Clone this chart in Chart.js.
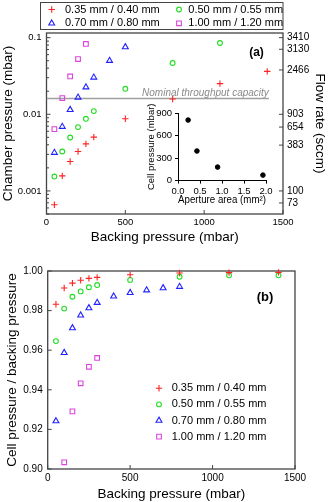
<!DOCTYPE html>
<html lang="en">
<head>
<meta charset="UTF-8">
<title>Chamber and cell pressure vs backing pressure</title>
<script src="https://cdn.jsdelivr.net/npm/chart.js"></script>
<style>
    body { margin: 0; background: #fff; }
    #wrap { position: relative; width: 329px; height: 502px; overflow: hidden; }
    #wrap canvas { position: absolute; }
    #topChart { left: 0; top: 0; }
    #bottomChart { left: 0; top: 245px; }
    #insetChart { left: 140px; top: 100px; }
</style>
</head>
<body>
<div id="wrap">
    <canvas id="topChart" width="329" height="245"></canvas>
    <canvas id="bottomChart" width="329" height="257"></canvas>
    <canvas id="insetChart" width="135" height="108"></canvas>
</div>
<script>
// ---- data ----
const seriesLabels = ['0.35 mm / 0.40 mm', '0.50 mm / 0.55 mm', '0.70 mm / 0.80 mm', '1.00 mm / 1.20 mm'];

// panel (a): chamber pressure (mbar) vs backing pressure (mbar)
const backingA1 = [50, 100, 150, 200, 250, 300, 500, 800, 1100, 1400];
const chamberA1 = [0.00066, 0.00157, 0.00242, 0.00327, 0.00411, 0.00503, 0.00873, 0.0158, 0.0251, 0.0363];
const backingA2 = [50, 100, 150, 200, 250, 300, 500, 800, 1100];
const chamberA2 = [0.00154, 0.00327, 0.00498, 0.00681, 0.00873, 0.0110, 0.0215, 0.0467, 0.0852];
const backingA3 = [50, 100, 150, 200, 250, 300, 400, 500];
const chamberA3 = [0.00316, 0.0069, 0.01146, 0.0166, 0.0226, 0.0303, 0.0501, 0.0755];
const backingA4 = [50, 100, 150, 200, 250];
const chamberA4 = [0.0064, 0.0163, 0.0312, 0.0526, 0.0828];

const chamberTicks = [0.001, 0.01, 0.1];
// flow rate axis: labels and the chamber pressure they sit at
const flowLabels = ['3410', '3130', '2466', '903', '654', '383', '100', '73'];
const flowAtChamber = [0.1, 0.0705, 0.0379, 0.01, 0.00681, 0.00396, 0.001, 0.000697];

const nominalCapacity = 0.0161;
const nominalSpan = [0, 1410];

// inset: cell pressure vs aperture area
const apertureArea = [0.23, 0.43, 0.90, 1.93];
const cellPressure = [806, 394, 180, 73];

// panel (b): cell pressure / backing pressure
const backingB1 = [50, 100, 150, 200, 250, 300, 500, 800, 1100, 1400];
const ratioB1 = [0.9832, 0.9914, 0.9939, 0.9953, 0.9963, 0.9968, 0.9981, 0.9990, 0.9992, 0.9993];
const backingB2 = [50, 100, 150, 200, 250, 300, 500, 800, 1100, 1400];
const ratioB2 = [0.9646, 0.9810, 0.9870, 0.9897, 0.9918, 0.9929, 0.9955, 0.9971, 0.9978, 0.9978];
const backingB3 = [50, 100, 150, 200, 250, 300, 400, 500, 600, 700, 800];
const ratioB3 = [0.9242, 0.9587, 0.9712, 0.9776, 0.9813, 0.9840, 0.9872, 0.9890, 0.9903, 0.9914, 0.9921];
const backingB4 = [100, 150, 200, 250, 300];
const ratioB4 = [0.9034, 0.9291, 0.9433, 0.9516, 0.9561];

// ---- styling ----
Chart.defaults.font.family = "'Liberation Sans', Arial, sans-serif";
Chart.defaults.color = '#000';

const markers = [
    { pointStyle: 'cross', radius: 3.2, color: '#ff2222' },
    { pointStyle: 'circle', radius: 2.4, color: '#22dd22' },
    { pointStyle: 'triangle', radius: 3.4, color: '#2222ff' },
    { pointStyle: 'rect', radius: 3.3, color: '#dd44dd' }
];

function scatterSet(k, xs, ys) {
    const m = markers[k];
    return {
        type: 'scatter',
        label: seriesLabels[k],
        data: xs.map((x, i) => ({ x: x, y: ys[i] })),
        pointStyle: m.pointStyle,
        pointRadius: m.radius,
        pointBorderColor: m.color,
        pointBackgroundColor: 'rgba(0,0,0,0)',
        pointBorderWidth: 1.1,
        clip: false
    };
}

function drawMarker(ctx, k, x, y) {
    const m = markers[k];
    ctx.save();
    ctx.strokeStyle = m.color;
    ctx.fillStyle = 'rgba(0,0,0,0)';
    ctx.lineWidth = 1.1;
    Chart.helpers.drawPoint(ctx, { pointStyle: m.pointStyle, radius: m.radius, borderWidth: 1.1, rotation: 0 }, x, y);
    ctx.restore();
}

// frame + inward tick marks
function frameTicks(extra) {
    return {
        id: 'frameTicks',
        beforeDatasetsDraw(chart) {
            const ctx = chart.ctx, a = chart.chartArea;
            ctx.save();
            ctx.strokeStyle = '#444';
            ctx.lineWidth = 1;
            ctx.beginPath();
            chart.scales.x.ticks.forEach(t => {
                const px = chart.scales.x.getPixelForValue(t.value);
                ctx.moveTo(px, a.bottom); ctx.lineTo(px, a.bottom - 4);
            });
            const y = chart.scales.y;
            y.ticks.forEach(t => {
                const py = y.getPixelForValue(t.value);
                ctx.moveTo(a.left, py); ctx.lineTo(a.left + 4, py);
            });
            if (extra) extra(chart, ctx, a);
            ctx.stroke();
            ctx.lineWidth = 1.3;
            ctx.strokeRect(a.left, a.top, a.right - a.left, a.bottom - a.top);
            ctx.restore();
        }
    };
}

// ---- top panel ----
new Chart(document.getElementById('topChart'), {
    type: 'scatter',
    data: {
        datasets: [
            scatterSet(0, backingA1, chamberA1),
            scatterSet(1, backingA2, chamberA2),
            scatterSet(2, backingA3, chamberA3),
            scatterSet(3, backingA4, chamberA4),
            {
                type: 'line',
                label: 'Nominal throughput capacity',
                data: nominalSpan.map(x => ({ x: x, y: nominalCapacity })),
                borderColor: '#a0a0a0',
                borderWidth: 1.5,
                pointRadius: 0
            }
        ]
    },
    options: {
        responsive: false,
        animation: false,
        layout: { padding: { top: 33, left: 0, right: 0, bottom: 0 } },
        plugins: { legend: { display: false }, tooltip: { enabled: false } },
        scales: {
            x: {
                type: 'linear', min: 0, max: 1500,
                grid: { display: false, drawTicks: false },
                border: { display: false },
                ticks: { stepSize: 500, padding: 3, font: { size: 9.5 }, callback: v => String(v) },
                title: { display: true, text: 'Backing pressure (mbar)', font: { size: 13.5 }, padding: 0 },
                afterFit: s => { s.height = 31; }
            },
            y: {
                type: 'logarithmic', position: 'left', min: 0.0005, max: 0.115,
                grid: { display: false, drawTicks: false },
                border: { display: false },
                afterBuildTicks: s => { s.ticks = chamberTicks.map(v => ({ value: v })); },
                ticks: { autoSkip: false, padding: 5, font: { size: 9.5 }, callback: v => String(v) },
                title: { display: true, text: 'Chamber pressure (mbar)', font: { size: 13.5 }, padding: 0 },
                afterFit: s => { s.width = 46.5; }
            },
            y2: {
                type: 'logarithmic', position: 'right', min: 0.0005, max: 0.115,
                grid: { display: false, drawTicks: false },
                border: { display: false },
                afterBuildTicks: s => { s.ticks = flowAtChamber.map(v => ({ value: v })); },
                ticks: { autoSkip: false, padding: 4, font: { size: 10 }, callback: (v, i) => flowLabels[i] },
                title: { display: true, text: 'Flow rate (sccm)', font: { size: 13.5 }, padding: { top: 1, bottom: 0 } },
                afterFit: s => { s.width = 46; }
            }
        }
    },
    plugins: [
        frameTicks((chart, ctx, a) => {
            const y = chart.scales.y;
            // minor log ticks
            for (let e = -4; e <= 0; e++) {
                for (let m = 2; m <= 9; m++) {
                    const v = m * Math.pow(10, e);
                    if (v < y.min || v > y.max) continue;
                    const py = y.getPixelForValue(v);
                    ctx.moveTo(a.left, py); ctx.lineTo(a.left + 2.5, py);
                }
            }
            const y2 = chart.scales.y2;
            y2.ticks.forEach(t => {
                const py = y2.getPixelForValue(t.value);
                ctx.moveTo(a.right, py); ctx.lineTo(a.right - 4, py);
            });
        }),
        {
            id: 'annotations',
            afterDraw(chart) {
                const ctx = chart.ctx;
                const x = chart.scales.x, y = chart.scales.y;
                ctx.save();
                // nominal capacity label
                ctx.font = "italic 10px 'Liberation Sans', Arial, sans-serif";
                ctx.fillStyle = '#8a8a8a';
                ctx.textAlign = 'right';
                ctx.textBaseline = 'alphabetic';
                ctx.fillText('Nominal throughput capacity', x.getPixelForValue(nominalSpan[1]), y.getPixelForValue(nominalCapacity) - 2);
                // panel tag
                ctx.font = "bold 12px 'Liberation Sans', Arial, sans-serif";
                ctx.fillStyle = '#000';
                ctx.textAlign = 'center';
                ctx.textBaseline = 'middle';
                ctx.fillText('(a)', 256.5, 53);
                // legend box
                ctx.strokeStyle = '#444';
                ctx.lineWidth = 1;
                ctx.strokeRect(40.5, 2.5, 242.5, 27);
                ctx.font = "11px 'Liberation Sans', Arial, sans-serif";
                ctx.textAlign = 'left';
                const cols = [[51.7, 65], [179, 188.3]];
                const rows = [9.5, 23.3];
                seriesLabels.forEach((lab, k) => {
                    const c = cols[k % 2], r = rows[Math.floor(k / 2)];
                    drawMarker(ctx, k, c[0], r);
                    ctx.fillStyle = '#000';
                    ctx.fillText(lab, c[1], r);
                });
                ctx.restore();
            }
        }
    ]
});

// ---- inset ----
new Chart(document.getElementById('insetChart'), {
    type: 'scatter',
    data: {
        datasets: [{
            label: 'Cell pressure',
            data: apertureArea.map((x, i) => ({ x: x, y: cellPressure[i] })),
            pointStyle: 'circle',
            pointRadius: 2.3,
            pointBackgroundColor: '#000',
            pointBorderColor: '#000',
            clip: false
        }]
    },
    options: {
        responsive: false,
        animation: false,
        layout: { padding: { top: 13, right: 9, left: 0, bottom: 0 } },
        plugins: { legend: { display: false }, tooltip: { enabled: false } },
        scales: {
            x: {
                type: 'linear', min: 0, max: 2,
                grid: { drawOnChartArea: false, drawTicks: true, tickLength: 3, color: '#000' },
                border: { display: true, color: '#000', width: 1 },
                ticks: { stepSize: 0.5, padding: 2, font: { size: 9.5 }, callback: v => v.toFixed(1) },
                title: { display: true, text: 'Aperture area (mm²)', font: { size: 10 }, padding: { top: 0, bottom: 2 } },
                afterFit: s => { s.height = 27.4; }
            },
            y: {
                type: 'linear', min: 0, max: 900,
                grid: { drawOnChartArea: false, drawTicks: true, tickLength: 3, color: '#000' },
                border: { display: true, color: '#000', width: 1 },
                ticks: { stepSize: 300, padding: 3, font: { size: 9.5 } },
                title: { display: true, text: 'Cell pressure (mbar)', font: { size: 9.5 }, padding: { top: 6, bottom: 0 } },
                afterFit: s => { s.width = 38; }
            }
        }
    }
});

// ---- bottom panel ----
new Chart(document.getElementById('bottomChart'), {
    type: 'scatter',
    data: {
        datasets: [
            scatterSet(0, backingB1, ratioB1),
            scatterSet(1, backingB2, ratioB2),
            scatterSet(2, backingB3, ratioB3),
            scatterSet(3, backingB4, ratioB4)
        ]
    },
    options: {
        responsive: false,
        animation: false,
        layout: { padding: { top: 26, right: 34, left: 0, bottom: 0 } },
        plugins: { legend: { display: false }, tooltip: { enabled: false } },
        scales: {
            x: {
                type: 'linear', min: 0, max: 1500,
                grid: { display: false, drawTicks: false },
                border: { display: false },
                ticks: { stepSize: 500, padding: 3, font: { size: 10 }, callback: v => String(v) },
                title: { display: true, text: 'Backing pressure (mbar)', font: { size: 13.5 }, padding: 0 },
                afterFit: s => { s.height = 33; }
            },
            y: {
                type: 'linear', min: 0.9, max: 1.0,
                grid: { display: false, drawTicks: false },
                border: { display: false },
                ticks: { stepSize: 0.02, padding: 5, font: { size: 10 }, callback: v => v.toFixed(2) },
                title: { display: true, text: 'Cell pressure / backing pressure', font: { size: 13.5 }, padding: { top: 4, bottom: 0 } },
                afterFit: s => { s.width = 47.7; }
            }
        }
    },
    plugins: [
        frameTicks(),
        {
            id: 'annotations',
            afterDraw(chart) {
                const ctx = chart.ctx;
                ctx.save();
                ctx.font = "bold 13px 'Liberation Sans', Arial, sans-serif";
                ctx.fillStyle = '#000';
                ctx.textAlign = 'center';
                ctx.textBaseline = 'middle';
                ctx.fillText('(b)', 265, 52);
                ctx.font = "11px 'Liberation Sans', Arial, sans-serif";
                ctx.textAlign = 'left';
                seriesLabels.forEach((lab, k) => {
                    const r = 143.3 + k * 16.1;
                    drawMarker(ctx, k, 159, r);
                    ctx.fillStyle = '#000';
                    ctx.fillText(lab, 171.7, r);
                });
                ctx.restore();
            }
        }
    ]
});
</script>
</body>
</html>
